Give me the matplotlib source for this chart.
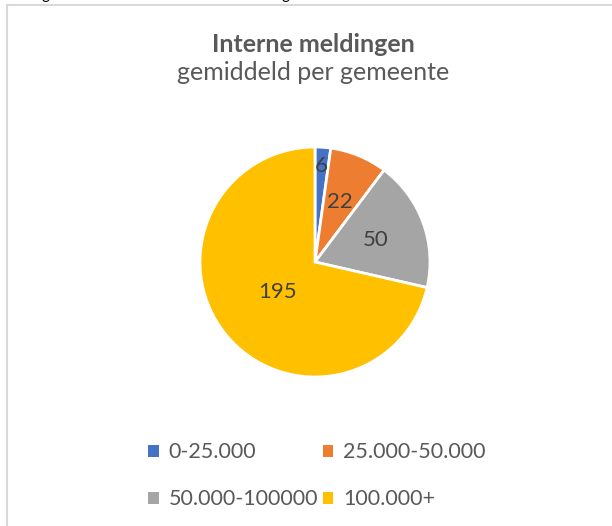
import numpy as np
import matplotlib.pyplot as plt
from matplotlib.patches import Patch

plt.rcParams['font.family'] = ['Lato', 'DejaVu Sans']

# gegevens
categories = ['0-25.000', '25.000-50.000', '50.000-100000', '100.000+']
values = [6, 22, 50, 195]
colors = ['#4472C4', '#ED7D31', '#A5A5A5', '#FFC000']
label_r = [0.84, 0.56, 0.56, 0.42]

W, H = 612, 526
fig = plt.figure(figsize=(W / 100, H / 100), dpi=100)

# rand van het grafiekvak
fig.add_artist(plt.Line2D([7 / W, 7 / W], [0, 1 - 5 / H], color='#D9D9D9', lw=1.5))
fig.add_artist(plt.Line2D([7 / W, 1], [1 - 5 / H, 1 - 5 / H], color='#D9D9D9', lw=1.5))
# afgesneden tekst erboven
fig.text(45 / W, 1 + 1 / H, 'g', ha='center', va='baseline', fontsize=11, color='black')
fig.text(285 / W, 1 + 1 / H, 'g', ha='center', va='baseline', fontsize=11, color='black')

fig.text(313 / W, 1 - 45 / H, 'Interne meldingen', ha='center', va='center',
         fontsize=18, fontweight='bold', color='#595959')
fig.text(313 / W, 1 - 73 / H, 'gemiddeld per gemeente', ha='center', va='center',
         fontsize=18, color='#595959')

cx, cy, r = 315, 262, 115
ax = fig.add_axes([(cx - r) / W, (H - cy - r) / H, 2 * r / W, 2 * r / H])
wedges, _ = ax.pie(values, colors=colors, startangle=90, counterclock=False,
                   wedgeprops=dict(edgecolor='white', linewidth=2))
ax.set_xlim(-1, 1)
ax.set_ylim(-1, 1)
ax.set_aspect('equal')

for w, v, f in zip(wedges, values, label_r):
    ang = np.deg2rad((w.theta1 + w.theta2) / 2)
    ax.text(f * np.cos(ang), f * np.sin(ang), str(v), ha='center', va='center',
            fontsize=16, color='#404040')

# legenda rij voor rij
order = [0, 2, 1, 3]
handles = [Patch(facecolor=colors[i], edgecolor='none') for i in order]
fig.legend(handles, [categories[i] for i in order], ncol=2, loc='upper left',
           bbox_to_anchor=(129 / W, 1 - 423 / H), frameon=False,
           fontsize=15.5, labelcolor='#595959', handlelength=0.5, handleheight=0.5,
           handletextpad=0.45, columnspacing=0.2, labelspacing=1.25)

fig.savefig('out.png', dpi=100)
